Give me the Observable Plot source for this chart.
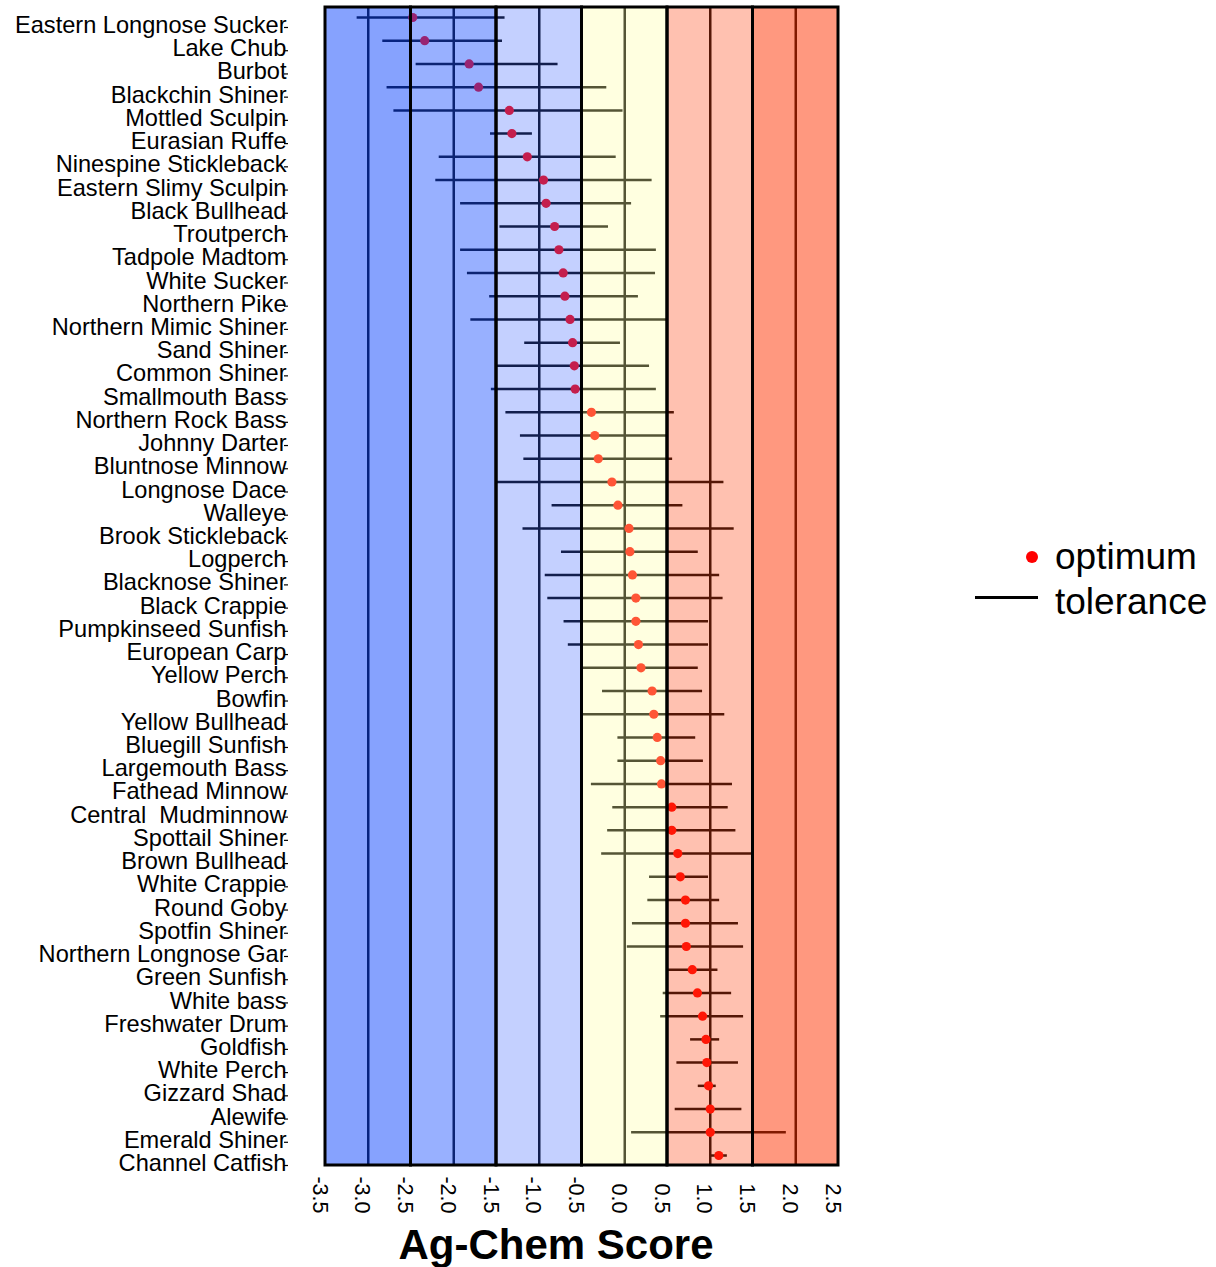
<!DOCTYPE html>
<html><head><meta charset="utf-8">
<script src="https://cdn.jsdelivr.net/npm/d3@7"></script>
<script src="https://cdn.jsdelivr.net/npm/@observablehq/plot@0.6"></script>
<style>
body{margin:0;background:#fff;}
#wrap{position:relative;width:1216px;height:1267px;}
svg text{white-space:pre;}
.leg{position:absolute;font-family:"Liberation Sans",Arial,sans-serif;font-size:37px;color:#000;line-height:1;white-space:nowrap;}
</style></head><body><div id="wrap"></div>
<script>
const species = ["Eastern Longnose Sucker","Lake Chub","Burbot","Blackchin Shiner","Mottled Sculpin","Eurasian Ruffe","Ninespine Stickleback","Eastern Slimy Sculpin","Black Bullhead","Troutperch","Tadpole Madtom","White Sucker","Northern Pike","Northern Mimic Shiner","Sand Shiner","Common Shiner","Smallmouth Bass","Northern Rock Bass","Johnny Darter","Bluntnose Minnow","Longnose Dace","Walleye","Brook Stickleback","Logperch","Blacknose Shiner","Black Crappie","Pumpkinseed Sunfish","European Carp","Yellow Perch","Bowfin","Yellow Bullhead","Bluegill Sunfish","Largemouth Bass","Fathead Minnow","Central  Mudminnow","Spottail Shiner","Brown Bullhead","White Crappie","Round Goby","Spotfin Shiner","Northern Longnose Gar","Green Sunfish","White bass","Freshwater Drum","Goldfish","White Perch","Gizzard Shad","Alewife","Emerald Shiner","Channel Catfish"];
const optimum = [-2.48,-2.34,-1.82,-1.71,-1.35,-1.32,-1.14,-0.95,-0.92,-0.82,-0.77,-0.72,-0.70,-0.64,-0.61,-0.59,-0.58,-0.39,-0.35,-0.31,-0.15,-0.08,0.05,0.06,0.09,0.13,0.13,0.16,0.19,0.32,0.34,0.38,0.42,0.43,0.55,0.55,0.62,0.65,0.71,0.71,0.72,0.79,0.85,0.91,0.95,0.96,0.98,1.00,1.00,1.10];
const toleranceLow = [-3.13,-2.83,-2.44,-2.78,-2.70,-1.57,-2.17,-2.21,-1.92,-1.46,-1.92,-1.84,-1.58,-1.80,-1.17,-1.50,-1.56,-1.39,-1.22,-1.18,-1.49,-0.85,-1.19,-0.74,-0.93,-0.90,-0.71,-0.66,-0.50,-0.26,-0.50,-0.08,-0.08,-0.39,-0.14,-0.20,-0.27,0.29,0.27,0.09,0.03,0.51,0.45,0.42,0.77,0.61,0.86,0.59,0.08,1.00];
const toleranceHigh = [-1.40,-1.43,-0.78,-0.21,-0.02,-1.08,-0.10,0.32,0.08,-0.19,0.37,0.36,0.16,0.49,-0.05,0.29,0.37,0.58,0.49,0.56,1.16,0.68,1.28,0.86,1.11,1.15,0.98,0.98,0.86,0.91,1.17,0.83,0.92,1.26,1.21,1.30,1.49,0.98,1.11,1.33,1.39,1.09,1.25,1.39,1.11,1.33,1.07,1.37,1.89,1.20];
const bandEdges = [-3.5,-2.5,-1.5,-0.5,0.5,1.5,2.5];
const gridValues = [-3,-2,-1,0,1,2];
const xTickValues = [-3.5,-3.0,-2.5,-2.0,-1.5,-1.0,-0.5,0.0,0.5,1.0,1.5,2.0,2.5];
const bandColors = ["#0d45fd","#1a4fff","#3a62ff","#ffffa2","#ff4512","#ff3100"];
const bandAlpha = [0.5,0.45,0.3,0.333,0.333,0.5];

const rows = species.map((s,i)=>({species:s, opt:optimum[i], lo:toleranceLow[i], hi:toleranceHigh[i]}));
const bands = bandEdges.slice(0,-1).map((x1,i)=>({x1, x2:bandEdges[i+1]}));

const chart = Plot.plot({
  width: 1216,
  height: 1267,
  marginLeft: 325,
  marginRight: 378,
  marginTop: 7,
  marginBottom: 102,
  style: {fontFamily: "'Liberation Sans', Arial, sans-serif", fontSize: "23px", background: "white", color: "black", overflow: "visible"},
  x: {domain: [-3.5, 2.5], axis: null},
  y: {type: "point", domain: species, padding: 0.43, round: false, axis: null},
  marks: [
    Plot.ruleX(gridValues, {x: d => d, stroke: "black", strokeWidth: 2.5}),
    Plot.ruleY(rows, {y: "species", x1: "lo", x2: "hi", stroke: "black", strokeWidth: 2.5}),
    Plot.dot(rows, {x: "opt", y: "species", r: 4.6, fill: "red", stroke: "none"}),
    ...bands.map((b,i) => Plot.rect([b], {x1: "x1", x2: "x2", fill: bandColors[i], fillOpacity: bandAlpha[i]})),
    Plot.rect(bands, {x1: "x1", x2: "x2", fill: "none", stroke: "black", strokeWidth: 3}),
    Plot.axisY({anchor: "left", tickSize: 4, dx: -37, dy: 10, tickFormat: () => "", strokeWidth: 1.2, label: null}),
    Plot.axisY({anchor: "left", tickSize: 0, tickPadding: 39, dy: 8, fontSize: 23.6, label: null}),
    Plot.text(xTickValues, {x: d => d, frameAnchor: "bottom", text: d => d.toFixed(1), rotate: 90, textAnchor: "end", lineAnchor: "middle", dy: 48, dx: -6, fontSize: 21.5}),
    Plot.text(["Ag-Chem Score"], {frameAnchor: "bottom", dy: 80, dx: -26, fontSize: 42, fontWeight: "bold", lineAnchor: "middle"})
  ]
});
const wrap = document.getElementById("wrap");
wrap.appendChild(chart);

const legend = document.createElement("div");
legend.innerHTML = `
<div style="position:absolute;left:1026px;top:551px;width:12px;height:12px;border-radius:50%;background:red;"></div>
<div class="leg" style="left:1055px;top:538px;">optimum</div>
<div style="position:absolute;left:975px;top:596px;width:63px;height:3px;background:black;"></div>
<div class="leg" style="left:1055px;top:583px;">tolerance</div>`;
wrap.appendChild(legend);
</script>
</body></html>
